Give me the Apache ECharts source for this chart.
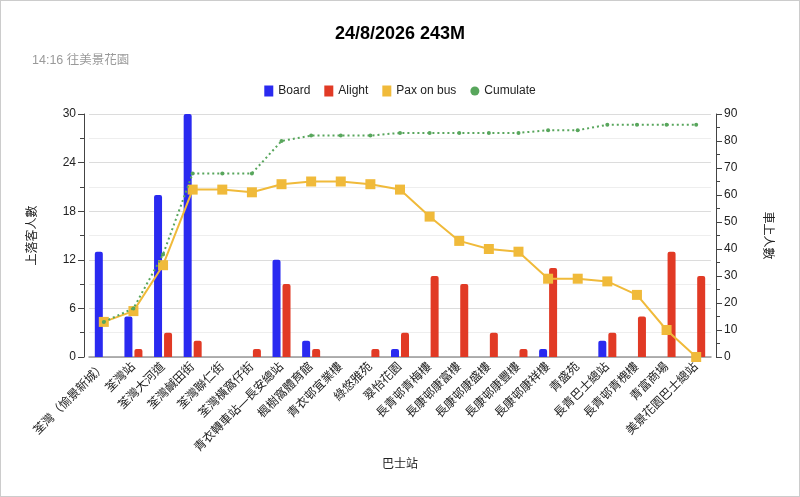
<!DOCTYPE html>
<html>
<head>
<meta charset="utf-8">
<script src="https://cdn.jsdelivr.net/npm/echarts@6/dist/echarts.min.js"></script>
<style>
html,body{margin:0;padding:0;background:#fff;}
#c{position:absolute;left:0;top:0;width:798px;height:495px;border:1px solid #ccc;}
</style>
</head>
<body>
<div id="c"></div>
<script>
const stops = ['荃灣（愉景新城）','荃灣站','荃灣大河道','荃灣鹹田街','荃灣聯仁街','荃灣橫窩仔街','青衣轉車站—長安總站','楓樹窩體育館','青衣邨宜業樓','綠悠雅苑','翠怡花園','長青邨青梅樓','長康邨康富樓','長康邨康盛樓','長康邨康豐樓','長康邨康祥樓','青盛苑','長青巴士總站','長青邨青槐樓','青富商場','美景花園巴士總站'];
const board =    [13,5,20,30,0,0,12,2,0,0,1,0,0,0,0,1,0,2,0,0,0];
const alight =   [0,1,3,2,0,1,9,1,0,1,3,10,9,3,1,11,0,3,5,13,10];
const paxOnBus = [13,17,34,62,62,61,64,65,65,64,62,52,43,40,39,29,29,28,23,10,0];
const cumulate = [13,18,38,68,68,68,80,82,82,82,83,83,83,83,83,84,84,86,86,86,86];
const leftTicks = [0,6,12,18,24,30];
const rightTicks = [0,10,20,30,40,50,60,70,80,90];

const FONT = '"Liberation Sans", Arial, "Noto Sans CJK TC", sans-serif';
const chart = echarts.init(document.getElementById('c'), null, {renderer:'canvas'});
chart.setOption({
  animation:false,
  textStyle:{fontFamily:FONT},
  title:[
    {text:'24/8/2026 243M', left:'center', top:19,
     textStyle:{fontSize:18, fontWeight:'bold', color:'#000', fontFamily:FONT}},
    {text:'14:16 往美景花園', left:26, top:48,
     textStyle:{fontSize:12.5, fontWeight:'normal', color:'#9a9a9a', fontFamily:FONT}}
  ],
  legend:{
    top:79, left:'center', itemGap:14, itemWidth:9, itemHeight:11,
    textStyle:{fontSize:12, color:'#222', fontFamily:FONT},
    data:[
      {name:'Board', icon:'rect'},
      {name:'Alight', icon:'rect'},
      {name:'Pax on bus', icon:'rect'},
      {name:'Cumulate', icon:'circle'}
    ]
  },
  grid:{left:88, right:88, top:113, bottom:139, containLabel:false},
  xAxis:{
    type:'category', data:stops, boundaryGap:true,
    name:'巴士站', nameLocation:'middle', nameGap:102,
    nameTextStyle:{fontSize:12, color:'#222', fontFamily:FONT},
    axisLine:{lineStyle:{color:'#999', width:1.5}},
    axisTick:{show:false},
    axisLabel:{rotate:45, interval:0, fontSize:12, color:'#222', margin:8, fontFamily:FONT}
  },
  yAxis:[
    {
      type:'value', min:leftTicks[0], max:leftTicks[leftTicks.length-1], interval:6, offset:5,
      name:'上落客人數', nameLocation:'middle', nameGap:45, nameRotate:90,
      nameTextStyle:{fontSize:12, color:'#222', fontFamily:FONT},
      axisLine:{show:true, lineStyle:{color:'#444'}},
      axisTick:{show:true, length:6, lineStyle:{color:'#444'}},
      minorTick:{show:true, splitNumber:2, length:4, lineStyle:{color:'#444'}},
      splitLine:{show:true, lineStyle:{color:'#dcdcdc'}},
      minorSplitLine:{show:true, lineStyle:{color:'#eeeeee'}},
      axisLabel:{fontSize:12, color:'#222', margin:8, fontFamily:FONT}
    },
    {
      type:'value', min:rightTicks[0], max:rightTicks[rightTicks.length-1], interval:10, offset:5,
      name:'車上人數', nameLocation:'middle', nameGap:45, nameRotate:-90,
      nameTextStyle:{fontSize:12, color:'#222', fontFamily:FONT},
      axisLine:{show:true, lineStyle:{color:'#444'}},
      axisTick:{show:true, length:6, lineStyle:{color:'#444'}},
      minorTick:{show:true, splitNumber:2, length:4, lineStyle:{color:'#444'}},
      splitLine:{show:false},
      axisLabel:{fontSize:12, color:'#222', margin:8, fontFamily:FONT}
    }
  ],
  series:[
    {name:'Board', type:'bar', yAxisIndex:0, data:board, barWidth:8, barGap:'25%',
     itemStyle:{color:'#2a2af0', borderRadius:[2,2,0,0]}},
    {name:'Alight', type:'bar', yAxisIndex:0, data:alight, barWidth:8,
     itemStyle:{color:'#e13a25', borderRadius:[2,2,0,0]}},
    {name:'Pax on bus', type:'line', yAxisIndex:1, data:paxOnBus,
     symbol:'rect', symbolSize:10, showSymbol:true,
     lineStyle:{color:'#f0ba3a', width:2}, itemStyle:{color:'#f0ba3a'}, z:3},
    {name:'Cumulate', type:'line', yAxisIndex:1, data:cumulate,
     symbol:'circle', symbolSize:4, showSymbol:true,
     lineStyle:{color:'#58a65c', width:2, type:[2,3]}, itemStyle:{color:'#58a65c'}, z:4}
  ]
});
</script>
</body>
</html>
